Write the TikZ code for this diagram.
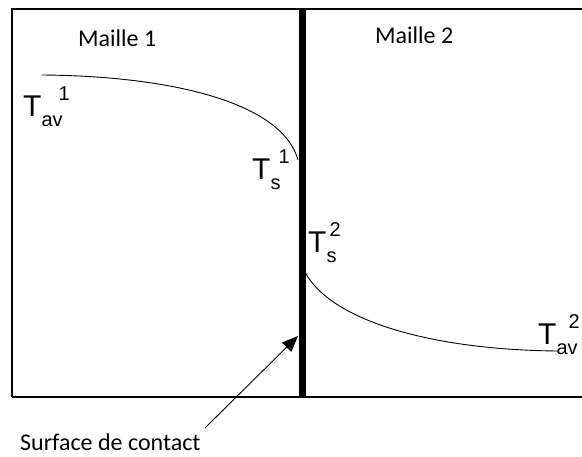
\documentclass[tikz,border=0pt]{standalone}
\usepackage{fontspec}
\setmainfont{Carlito}
\newfontfamily\arialfont{Liberation Sans}
\usetikzlibrary{arrows.meta}

\newcommand{\tlab}[3]{{\fontsize{30}{32}\selectfont T}{\fontsize{20}{22}\selectfont\raisebox{-10pt}{#1}\kern#3\raisebox{16pt}{#2}}}
\tikzset{
  maille/.style={anchor=base west, inner sep=0pt, font=\fontsize{24}{28}\selectfont},
  tlabel/.style={anchor=base west, inner sep=0pt, font=\arialfont},
  courbe/.style={line width=0.9pt}
}

\begin{document}
\begin{tikzpicture}[x=1pt,y=-1pt]
\useasboundingbox (0,0) rectangle (582,457);
\draw[line width=1.3pt] (12,397) -- (12,9) -- (582,9);
\draw[line width=1.3pt] (12,397) -- (582,397);
\draw[line width=7pt] (302,9) -- (302,397);
\node[maille] (m1) at (78,47) {Maille 1};
\node[maille] (m2) at (375,44) {Maille 2};
% temperature profiles
\draw[courbe] (42,75) .. controls (170,76) and (282,102) .. (298,160);
\draw[courbe] (305,272) .. controls (330,320) and (430,350) .. (558,351);
\node[tlabel] (tav1) at (23,117) {\tlab{av}{1}{-4pt}};
\node[tlabel] (ts1) at (252,180) {\tlab{s}{1}{-2pt}};
\node[tlabel] (ts2) at (308,253) {\tlab{s}{2}{-7pt}};
\node[tlabel] (tav2) at (538,345) {\tlab{av}{2}{-9pt}};
\node[maille] (surf) at (20,451) {Surface de contact};
\coordinate (queue) at (205,428);
\coordinate (pointe) at (298,336);
\draw[line width=0.9pt, -{Triangle[length=16pt,width=13pt]}] (queue) -- (pointe);
\end{tikzpicture}
\end{document}
